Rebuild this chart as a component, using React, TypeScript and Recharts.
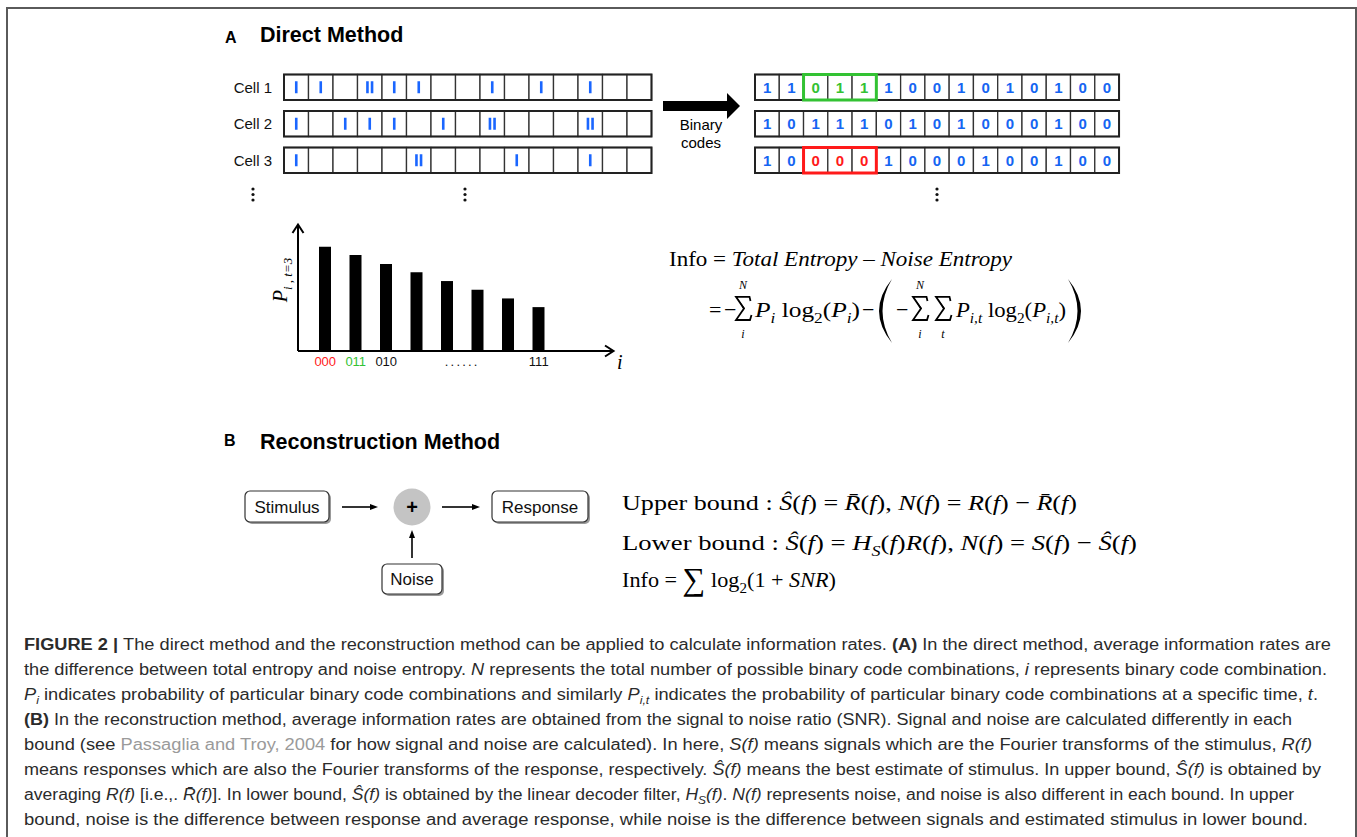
import React from "react";
import { BarChart, Bar, XAxis, YAxis } from "recharts";

const sans = "'Liberation Sans', Arial, Helvetica, sans-serif";
const serif = "'Liberation Serif', 'Times New Roman', serif";

// spikes per time bin, one row per cell
const cellNames = ["Cell 1", "Cell 2", "Cell 3"];
const spikeCounts = [
  [1, 1, 0, 2, 1, 1, 0, 0, 1, 0, 1, 0, 1, 0, 0],
  [1, 0, 1, 1, 1, 0, 1, 0, 2, 0, 0, 0, 2, 0, 0],
  [1, 0, 0, 0, 0, 2, 0, 0, 0, 1, 0, 0, 1, 0, 0],
];
const wordBoxes = [
  { row: 0, start: 2, end: 4, color: "#33c233" },
  { row: 2, start: 2, end: 4, color: "#ff1a1a" },
];

// probability of each 3-bin word at t=3
const codes = ["000", "011", "010", "001", "100", "101", "110", "111"];
const codeTickLabels = ["000", "011", "010", "", "......", "", "", "111"];
const codeTickColors = ["#ff1a1a", "#33c233", "#111", "#111", "#111", "#111", "#111", "#111"];
const probabilities = [0.24, 0.221, 0.2, 0.181, 0.161, 0.141, 0.121, 0.101];

const barData = codes.map((code, i) => ({ code, p: probabilities[i] }));

type Seg = [string, string];

const infoLine: Seg[] = [["Info = ", ""], ["Total Entropy", "i"], [" \u2013 ", ""], ["Noise Entropy", "i"]];
const termPi: Seg[] = [["P", "i"], ["i", "isub"], [" log", ""], ["2", "sub"], ["(", ""], ["P", "i"], ["i", "isub"], [")", ""]];
const termPit: Seg[] = [["P", "i"], ["i,t", "isub"], [" log", ""], ["2", "sub"], ["(", ""], ["P", "i"], ["i,t", "isub"], [")", ""]];

const upperLine: Seg[] = [
  ["Upper bound : ", ""], ["\u015C", "i"], ["(", ""], ["f", "i"], [") = ", ""], ["R\u0304", "i"], ["(", ""], ["f", "i"],
  ["), ", ""], ["N", "i"], ["(", ""], ["f", "i"], [") = ", ""], ["R", "i"], ["(", ""], ["f", "i"], [") \u2212 ", ""],
  ["R\u0304", "i"], ["(", ""], ["f", "i"], [")", ""],
];
const lowerLine: Seg[] = [
  ["Lower bound : ", ""], ["\u015C", "i"], ["(", ""], ["f", "i"], [") = ", ""], ["H", "i"], ["S", "isub"], ["(", ""],
  ["f", "i"], [")", ""], ["R", "i"], ["(", ""], ["f", "i"], ["), ", ""], ["N", "i"], ["(", ""], ["f", "i"], [") = ", ""],
  ["S", "i"], ["(", ""], ["f", "i"], [") \u2212 ", ""], ["\u015C", "i"], ["(", ""], ["f", "i"], [")", ""],
];
const snrLine: Seg[] = [["Info = ", ""], ["\u2211", "big"], [" log", ""], ["2", "sub"], ["(1 + ", ""], ["SNR", "i"], [")", ""]];

const captionLines: Seg[][] = [
  [["FIGURE 2 | ", "b"], ["The direct method and the reconstruction method can be applied to calculate information rates. ", ""], ["(A)", "b"], [" In the direct method, average information rates are", ""]],
  [["the difference between total entropy and noise entropy. ", ""], ["N", "i"], [" represents the total number of possible binary code combinations, ", ""], ["i", "i"], [" represents binary code combination.", ""]],
  [["P", "i"], ["i", "isub"], [" indicates probability of particular binary code combinations and similarly ", ""], ["P", "i"], ["i,t", "isub"], [" indicates the probability of particular binary code combinations at a specific time, ", ""], ["t", "i"], [".", ""]],
  [["(B)", "b"], [" In the reconstruction method, average information rates are obtained from the signal to noise ratio (SNR). Signal and noise are calculated differently in each", ""]],
  [["bound (see ", ""], ["Passaglia and Troy, 2004", "link"], [" for how signal and noise are calculated). In here, ", ""], ["S(f)", "i"], [" means signals which are the Fourier transforms of the stimulus, ", ""], ["R(f)", "i"]],
  [["means responses which are also the Fourier transforms of the response, respectively. ", ""], ["\u015C(f)", "i"], [" means the best estimate of stimulus. In upper bound, ", ""], ["\u015C(f)", "i"], [" is obtained by", ""]],
  [["averaging ", ""], ["R(f)", "i"], [" [i.e.,. ", ""], ["R\u0304(f)", "i"], ["]. In lower bound, ", ""], ["\u015C(f)", "i"], [" is obtained by the linear decoder filter, ", ""], ["H", "i"], ["S", "isub"], ["(f)", "i"], [". ", ""], ["N(f)", "i"], [" represents noise, and noise is also different in each bound. In upper", ""]],
  [["bound, noise is the difference between response and average response, while noise is the difference between signals and estimated stimulus in lower bound.", ""]],
];
const captionEnds = [1331, 1327, 1318, 1292, 1312, 1321, 1294, 1308];

function Rich({ segs, x, y, size, len, family, fill = "#000" }: { segs: Seg[]; x: number; y: number; size: number; len?: number; family: string; fill?: string }) {
  let shift = 0;
  return (
    <text x={x} y={y} fontSize={size} fontFamily={family} fill={fill} textLength={len} lengthAdjust={len ? "spacingAndGlyphs" : undefined}>
      {segs.map(([t, s], k) => {
        const sub = s.includes("sub");
        const target = sub ? size * 0.25 : s === "big" ? 3 : 0;
        const dy = target - shift;
        shift = target;
        return (
          <tspan
            key={k}
            dy={dy || undefined}
            fontWeight={s === "b" ? "bold" : undefined}
            fontStyle={s.startsWith("i") ? "italic" : undefined}
            fontSize={sub ? size * 0.68 : s === "big" ? size * 1.45 : undefined}
            fill={s === "link" ? "#9a9a9a" : undefined}
          >
            {t}
          </tspan>
        );
      })}
    </text>
  );
}

function CodeTick(props: any) {
  const { x, y, payload } = props;
  const i = codes.indexOf(payload.value);
  const label = codeTickLabels[i];
  const dots = label.startsWith(".");
  return (
    <text x={x + (dots ? 15 : 0)} y={y + 15} textAnchor="middle" fontSize={13} letterSpacing={dots ? 2.2 : 0} fontFamily={sans} fill={codeTickColors[i]}>
      {label}
    </text>
  );
}

function CellGrid({ x0, w, counts, digits }: { x0: number; w: number; counts: number[][]; digits: boolean }) {
  const rowY = [74.5, 111, 147.5];
  const h = 25.5;
  return (
    <g>
      {counts.map((row, r) => (
        <g key={r}>
          {row.map((n, c) => {
            const cx = x0 + c * w + w / 2;
            const cy = rowY[r] + h / 2;
            const box = wordBoxes.find((b) => b.row === r && c >= b.start && c <= b.end);
            return (
              <g key={c}>
                <rect x={x0 + c * w} y={rowY[r]} width={w} height={h} fill="#fff" stroke="#333" strokeWidth={1.3} />
                {digits ? (
                  <text x={cx} y={cy + 5.5} textAnchor="middle" fontSize={15} fontWeight="bold" fontFamily={sans} fill={box ? box.color : "#1565f2"}>
                    {n > 0 ? 1 : 0}
                  </text>
                ) : (
                  Array.from({ length: n }, (_, k) => (
                    <rect key={k} x={cx - 1.3 + (k - (n - 1) / 2) * 4.6} y={cy - 6} width={2.6} height={12} fill="#1a66ff" />
                  ))
                )}
              </g>
            );
          })}
          <rect x={x0} y={rowY[r]} width={w * row.length} height={h} fill="none" stroke="#222" strokeWidth={2} />
        </g>
      ))}
      {digits &&
        wordBoxes.map((b, k) => (
          <rect key={k} x={x0 + b.start * w} y={rowY[b.row]} width={w * (b.end - b.start + 1)} height={h} fill="none" stroke={b.color} strokeWidth={3} />
        ))}
    </g>
  );
}

function VDots({ x }: { x: number }) {
  return (
    <g fill="#111">
      <circle cx={x} cy={189} r={1.6} />
      <circle cx={x} cy={194.5} r={1.6} />
      <circle cx={x} cy={200} r={1.6} />
    </g>
  );
}

function Box({ x, y, w, h, label }: { x: number; y: number; w: number; h: number; label: string }) {
  return (
    <g>
      <rect x={x + 2} y={y + 2} width={w} height={h} rx={5} fill="#9a9a9a" />
      <rect x={x} y={y} width={w} height={h} rx={5} fill="#fff" stroke="#333" strokeWidth={1.2} />
      <text x={x + w / 2} y={y + h / 2 + 6} textAnchor="middle" fontSize={17} fontFamily={sans} fill="#111">
        {label}
      </text>
    </g>
  );
}

// summation sign drawn as a glyph outline, with limits above and below
function Sigma({ x, top, bottom }: { x: number; top?: string; bottom: string }) {
  const x0 = x - 7.5;
  const y0 = 296;
  return (
    <g fontFamily={serif}>
      <path
        d={`M ${x0 + 15} ${y0 + 5} L ${x0 + 14} ${y0 + 0.8} L ${x0 + 0.5} ${y0 + 0.8} L ${x0 + 8.5} ${y0 + 12.5} L ${x0 + 0.5} ${y0 + 24} L ${x0 + 14.5} ${y0 + 24} L ${x0 + 16} ${y0 + 19}`}
        fill="none"
        stroke="#000"
        strokeWidth={1.8}
        strokeLinejoin="miter"
      />
      <path d={`M ${x0 + 1} ${y0 + 1} L ${x0 + 9.5} ${y0 + 12.5} L ${x0 + 7.5} ${y0 + 12.5} Z`} fill="#000" />
      {top && <text x={x} y={289} fontSize={12} fontStyle="italic" textAnchor="middle">{top}</text>}
      <text x={x} y={338} fontSize={12} fontStyle="italic" textAnchor="middle">{bottom}</text>
    </g>
  );
}

export default function App() {
  return (
    <div style={{ position: "absolute", left: 0, top: 0, width: 1357, height: 837, overflow: "hidden", background: "#fff" }}>
      <div style={{ position: "absolute", left: 6, top: 7, width: 1347, height: 900, border: "2px solid #5a5a5a", borderBottom: "none" }} />
      <svg width={1357} height={837} style={{ position: "absolute", left: 0, top: 0 }}>
        {/* panel A */}
        <text x={225} y={43} fontSize={16} fontWeight="bold" fontFamily={sans}>A</text>
        <text x={260} y={42} fontSize={21.5} fontWeight="bold" fontFamily={sans}>Direct Method</text>
        {cellNames.map((name, r) => (
          <text key={r} x={272} y={[87, 123.5, 160][r] + 5.5} textAnchor="end" fontSize={15} fontFamily={sans} fill="#111">{name}</text>
        ))}
        <CellGrid x0={284} w={24.5} counts={spikeCounts} digits={false} />
        <CellGrid x0={755} w={24.27} counts={spikeCounts} digits={true} />
        <VDots x={253} />
        <VDots x={465} />
        <VDots x={937} />
        <rect x={663} y={101} width={66} height={10} fill="#000" />
        <polygon points="727,93 740,106 727,119" fill="#000" />
        <text x={701} y={130} textAnchor="middle" fontSize={15} fontFamily={sans}>Binary</text>
        <text x={701} y={148} textAnchor="middle" fontSize={15} fontFamily={sans}>codes</text>

        {/* bar chart axis decorations */}
        <polyline points="292.5,233 298,224.5 303.5,233" fill="none" stroke="#000" strokeWidth={2} />
        <polyline points="605,345.5 613.5,351 605,356.5" fill="none" stroke="#000" strokeWidth={2} />
        <text x={617} y={369} fontSize={20} fontStyle="italic" fontFamily={serif}>i</text>
        <text transform="translate(287,280) rotate(-90)" textAnchor="middle" fontFamily={serif} fontStyle="italic">
          <tspan fontSize={20}>P</tspan>
          <tspan fontSize={13} dy={5}>i , t=3</tspan>
        </text>

        {/* entropy formula */}
        <Rich segs={infoLine} x={669} y={266} size={22} len={343} family={serif} />
        <text x={709} y={317} fontSize={22} fontFamily={serif}>=</text>
        <text x={724} y={317} fontSize={22} fontFamily={serif}>{"\u2212"}</text>
        <Sigma x={743} top="N" bottom="i" />
        <Rich segs={termPi} x={755} y={317} size={22} len={105} family={serif} />
        <text x={862} y={317} fontSize={22} fontFamily={serif}>{"\u2212"}</text>
        <path d="M 892 279 Q 866 311 892 343 Q 873 311 892 279 Z" fill="#000" />
        <text x={896} y={317} fontSize={22} fontFamily={serif}>{"\u2212"}</text>
        <Sigma x={920} top="N" bottom="i" />
        <Sigma x={943} bottom="t" />
        <Rich segs={termPit} x={956} y={317} size={22} len={110} family={serif} />
        <path d="M 1068 279 Q 1094 311 1068 343 Q 1087 311 1068 279 Z" fill="#000" />

        {/* panel B */}
        <text x={224} y={446} fontSize={16} fontWeight="bold" fontFamily={sans}>B</text>
        <text x={260} y={449} fontSize={21.5} fontWeight="bold" fontFamily={sans}>Reconstruction Method</text>
        <Box x={245} y={491} w={84} h={31} label="Stimulus" />
        <Box x={492} y={491} w={96} h={31} label="Response" />
        <Box x={382} y={564} w={60} h={30} label="Noise" />
        <g stroke="#000" strokeWidth={1.6}>
          <line x1={342} y1={507} x2={372} y2={507} />
          <line x1={442} y1={507} x2={474} y2={507} />
          <line x1={412} y1={558} x2={412} y2={536} />
        </g>
        <g fill="#000">
          <polygon points="370,504 378,507 370,510" />
          <polygon points="472,504 480,507 472,510" />
          <polygon points="409,538 412,530 415,538" />
        </g>
        <circle cx={412} cy={507} r={18.5} fill="#c4c4c4" />
        <text x={412} y={514} textAnchor="middle" fontSize={20} fontWeight="bold" fontFamily={sans}>+</text>

        <Rich segs={upperLine} x={622} y={510} size={22} len={455} family={serif} />
        <Rich segs={lowerLine} x={622} y={550} size={22} len={515} family={serif} />
        <Rich segs={snrLine} x={622} y={587} size={22} len={214} family={serif} />

        {/* caption */}
        {captionLines.map((segs, k) => (
          <Rich key={k} segs={segs} x={24} y={650 + k * 25} size={16} len={captionEnds[k] - 24} family={sans} fill="#2b2b2b" />
        ))}
      </svg>

      <div style={{ position: "absolute", left: 290, top: 220 }}>
        <BarChart width={330} height={156} data={barData} margin={{ top: 5, right: 7, left: 6, bottom: 0 }}>
          <XAxis
            dataKey="code"
            type="category"
            interval={0}
            height={25}
            padding={{ left: 12, right: 59 }}
            axisLine={{ stroke: "#000", strokeWidth: 2 }}
            tickLine={false}
            tickSize={0}
            tickMargin={0}
            tick={<CodeTick />}
          />
          <YAxis type="number" domain={[0, 0.29]} width={2} tick={false} tickLine={false} axisLine={{ stroke: "#000", strokeWidth: 2 }} allowDataOverflow />
          <Bar dataKey="p" fill="#000" barSize={12} isAnimationActive={false} />
        </BarChart>
      </div>
    </div>
  );
}
